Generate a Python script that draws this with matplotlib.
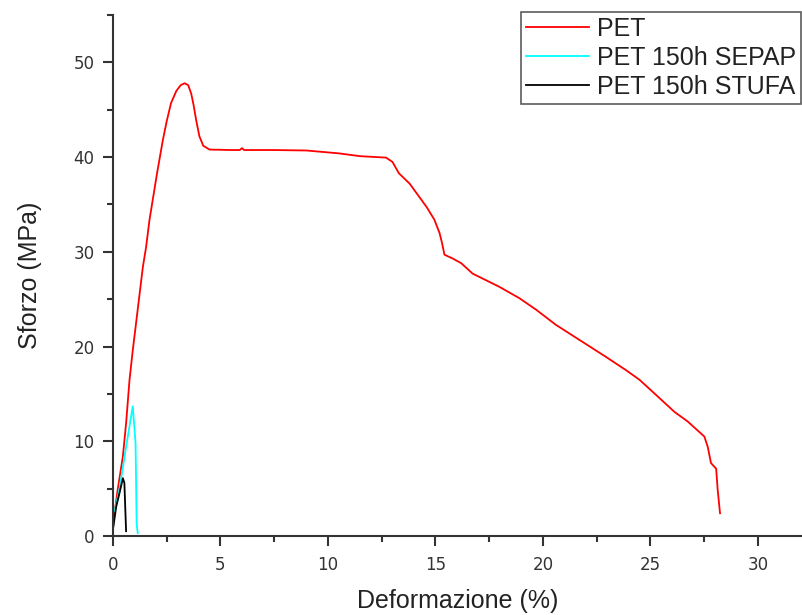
import matplotlib
matplotlib.use("Agg")
import matplotlib.pyplot as plt
from matplotlib.ticker import MultipleLocator

plt.rcParams['font.family'] = ['Liberation Sans', 'DejaVu Sans']

# Stress-strain curves (strain %, stress MPa)
pet_strain = [0, 0.07, 0.22, 0.46, 0.61, 0.77, 0.92, 1.15, 1.39, 1.54, 1.70, 1.85,
              2.05, 2.32, 2.5, 2.7, 2.95, 3.15, 3.33, 3.5, 3.64, 3.75, 3.87, 4.02,
              4.2, 4.49, 5.5, 5.9, 6.0, 6.1, 7.5, 9.0, 10.5, 11.5, 12.7, 13.0, 13.3,
              13.8, 14.25, 14.6, 14.95, 15.19, 15.3, 15.42, 15.8, 16.2, 16.73, 17.98,
              18.91, 19.68, 20.6, 21.7, 22.94, 23.87, 24.49, 25.5, 26.12, 26.73,
              27.51, 27.67, 27.82, 28.06, 28.13, 28.24]
pet_stress = [1.0, 2.4, 4.9, 8.4, 11.9, 16.5, 19.6, 23.9, 28.4, 30.5, 33.4, 35.5,
              38.3, 41.8, 43.8, 45.7, 47.0, 47.6, 47.8, 47.6, 46.7, 45.5, 43.9, 42.2,
              41.2, 40.8, 40.75, 40.75, 40.95, 40.75, 40.75, 40.7, 40.4, 40.1, 39.95,
              39.5, 38.3, 37.2, 35.8, 34.7, 33.4, 32.0, 31.0, 29.7, 29.3, 28.8, 27.7,
              26.3, 25.1, 23.9, 22.3, 20.7, 18.9, 17.5, 16.5, 14.4, 13.1, 12.1, 10.5,
              9.4, 7.7, 7.1, 4.9, 2.4]

sepap_strain = [0.07, 0.3, 0.61, 0.92, 1.05, 1.1, 1.15]
sepap_stress = [2.6, 4.9, 9.4, 13.7, 9.8, 1.3, 0.3]

stufa_strain = [0.02, 0.15, 0.3, 0.46, 0.53, 0.58, 0.61]
stufa_stress = [1.0, 3.1, 4.5, 6.1, 5.6, 2.4, 0.5]

labels = ["PET", "PET 150h SEPAP", "PET 150h STUFA"]
colors = ["#ff0000", "#00ffff", "#000000"]

fig = plt.figure(figsize=(8.03, 6.15), dpi=100)
ax = fig.add_axes([0.1407, 0.1285, 0.8593, 0.847])

ax.plot(pet_strain, pet_stress, color=colors[0], lw=1.3, label=labels[0])
ax.plot(sepap_strain, sepap_stress, color=colors[1], lw=1.3, label=labels[1])
ax.plot(stufa_strain, stufa_stress, color=colors[2], lw=1.3, label=labels[2])

ax.set_xlim(0, 32.1)
ax.set_ylim(0, 55)

ax.xaxis.set_major_locator(MultipleLocator(5))
ax.xaxis.set_minor_locator(MultipleLocator(2.5))
ax.yaxis.set_major_locator(MultipleLocator(10))
ax.yaxis.set_minor_locator(MultipleLocator(5))

for side in ("top", "right"):
    ax.spines[side].set_visible(False)
for side in ("left", "bottom"):
    ax.spines[side].set_color("#333333")
    ax.spines[side].set_linewidth(1.5)

ax.tick_params(which="major", direction="out", length=7.2, width=1.5,
               color="#333333", labelsize=12, labelcolor="#333333")
ax.tick_params(axis="x", which="major", pad=7)
ax.tick_params(axis="y", which="major", pad=6)
ax.tick_params(which="minor", direction="out", length=4.5, width=1.5,
               color="#333333")
for lbl in ax.get_xticklabels() + ax.get_yticklabels():
    lbl.set_family("DejaVu Sans")

ax.set_xlabel("Deformazione (%)", fontsize=18, color="#222222", labelpad=11)
ax.set_ylabel("Sforzo (MPa)", fontsize=18, color="#222222", labelpad=23)

leg = ax.legend(loc="upper right", bbox_to_anchor=(0.9975, 0.981),
                bbox_transform=fig.transFigure, fontsize=18, frameon=True,
                fancybox=False, edgecolor="#333333", handlelength=2.5,
                handletextpad=0.32, borderpad=0.2, labelspacing=0.2,
                borderaxespad=0)
leg.get_frame().set_linewidth(1.2)
for t in leg.get_texts():
    t.set_color("#222222")

fig.savefig("out.png", dpi=100)
